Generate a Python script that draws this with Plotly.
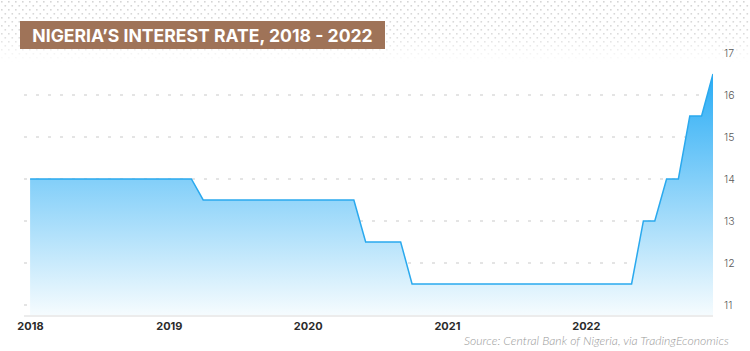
import base64
import plotly.graph_objects as go

# ---------------- data ----------------
months = [
    "2017-12-31",
    "2018-01-31", "2018-02-28", "2018-03-31", "2018-04-30", "2018-05-31", "2018-06-30",
    "2018-07-31", "2018-08-31", "2018-09-30", "2018-10-31", "2018-11-30", "2018-12-31",
    "2019-01-31", "2019-02-28", "2019-03-31", "2019-04-30", "2019-05-31", "2019-06-30",
    "2019-07-31", "2019-08-31", "2019-09-30", "2019-10-31", "2019-11-30", "2019-12-31",
    "2020-01-31", "2020-02-29", "2020-03-31", "2020-04-30", "2020-05-31", "2020-06-30",
    "2020-07-31", "2020-08-31", "2020-09-30", "2020-10-31", "2020-11-30", "2020-12-31",
    "2021-01-31", "2021-02-28", "2021-03-31", "2021-04-30", "2021-05-31", "2021-06-30",
    "2021-07-31", "2021-08-31", "2021-09-30", "2021-10-31", "2021-11-30", "2021-12-31",
    "2022-01-31", "2022-02-28", "2022-03-31", "2022-04-30", "2022-05-31", "2022-06-30",
    "2022-07-31", "2022-08-31", "2022-09-30", "2022-10-31", "2022-11-30",
]
rates = [
    14,
    14, 14, 14, 14, 14, 14,
    14, 14, 14, 14, 14, 14,
    14, 14, 13.5, 13.5, 13.5, 13.5,
    13.5, 13.5, 13.5, 13.5, 13.5, 13.5,
    13.5, 13.5, 13.5, 13.5, 12.5, 12.5,
    12.5, 12.5, 11.5, 11.5, 11.5, 11.5,
    11.5, 11.5, 11.5, 11.5, 11.5, 11.5,
    11.5, 11.5, 11.5, 11.5, 11.5, 11.5,
    11.5, 11.5, 11.5, 11.5, 13, 13,
    14, 14, 15.5, 15.5, 16.5,
]
x_tick_vals = ["2018-01-01", "2019-01-01", "2020-01-01", "2021-01-01", "2022-01-01"]
x_tick_text = ["2018", "2019", "2020", "2021", "2022"]
y_tick_vals = [11, 12, 13, 14, 15, 16, 17]

title_text = "NIGERIA\u2019S INTEREST RATE, 2018 - 2022"
source_text = "Source: Central Bank of Nigeria, via TradingEconomics"

# ---------------- layout geometry ----------------
W, H = 750, 351
L, R = 24, 713      # plot area in px
T, B = 53, 315
pw, ph = R - L, B - T


def px_x(px):
    return (px - L) / pw


def px_y(py):
    return (B - py) / ph


# dotted background pattern for the header
svg = f"""<svg xmlns="http://www.w3.org/2000/svg" width="750" height="62" viewBox="0 0 750 62">
<defs>
<pattern id="p" width="7" height="8" patternUnits="userSpaceOnUse">
<rect x="1" y="1" width="1.6" height="1.6" fill="#cdcdcd"/>
<rect x="4.5" y="5" width="1.6" height="1.6" fill="#cdcdcd"/>
</pattern>
<linearGradient id="g" x1="0" y1="0" x2="0" y2="1">
<stop offset="0" stop-color="#fff" stop-opacity="0.85"/>
<stop offset="0.55" stop-color="#fff" stop-opacity="0.7"/>
<stop offset="1" stop-color="#fff" stop-opacity="0"/>
</linearGradient>
<mask id="m"><rect width="750" height="62" fill="url(#g)"/></mask>
</defs>
<rect width="750" height="62" fill="url(#p)" mask="url(#m)"/>
</svg>"""
svg_uri = "data:image/svg+xml;base64," + base64.b64encode(svg.encode()).decode()

fig = go.Figure()
fig.add_trace(go.Scatter(
    x=months, y=rates,
    mode="lines",
    line=dict(color="#2aa9ee", width=1.5),
    fill="tozeroy",
    fillgradient=dict(
        type="vertical",
        start=10.8, stop=16.5,
        colorscale=[[0, "rgba(244,251,254,1)"], [1, "rgba(41,172,245,1)"]],
    ),
    hoverinfo="x+y",
    showlegend=False,
))

fig.update_layout(
    width=W, height=H,
    margin=dict(l=L, r=W - R, t=T, b=H - B, pad=0),
    paper_bgcolor="white",
    plot_bgcolor="rgba(0,0,0,0)",
    showlegend=False,
    xaxis=dict(
        type="date",
        range=["2017-12-15", "2022-11-30"],
        tickvals=x_tick_vals, ticktext=x_tick_text,
        showgrid=False, zeroline=False,
        showline=True, linecolor="#ececec", linewidth=2,
        ticks="", tickfont=dict(family="Inter", size=11, color="#2b2b2b", weight="bold"),
        fixedrange=True,
    ),
    yaxis=dict(
        side="right",
        range=[10.76, 17],
        tickvals=y_tick_vals,
        showgrid=True, gridcolor="#e4e4e4", gridwidth=1.5, griddash="3px,9px",
        zeroline=False, showline=False,
        ticks="outside", ticklen=8, tickcolor="rgba(0,0,0,0)",
        tickfont=dict(family="Inter", size=10.5, color="#5a5a5a", weight=300),
        fixedrange=True,
    ),
    images=[dict(
        source=svg_uri, xref="paper", yref="paper",
        x=px_x(0), y=px_y(0), sizex=W / pw, sizey=62 / ph,
        xanchor="left", yanchor="top", sizing="stretch", layer="below",
    )],
    annotations=[
        dict(
            text=f"<b>{title_text}</b>",
            xref="paper", yref="paper",
            x=px_x(20), y=px_y(21), xanchor="left", yanchor="top",
            width=365, height=28, align="center", valign="middle",
            bgcolor="#9f7358", borderwidth=0, borderpad=0,
            showarrow=False,
            font=dict(family="Inter", size=17.6, color="white"),
        ),
        dict(
            text=f"<i>{source_text}</i>",
            xref="paper", yref="paper",
            x=px_x(731), y=px_y(340), xanchor="right", yanchor="middle",
            showarrow=False,
            font=dict(family="Lato", size=12.2, color="#9a9a9a", weight=300),
        ),
    ],
)

fig.write_html("out.html")
